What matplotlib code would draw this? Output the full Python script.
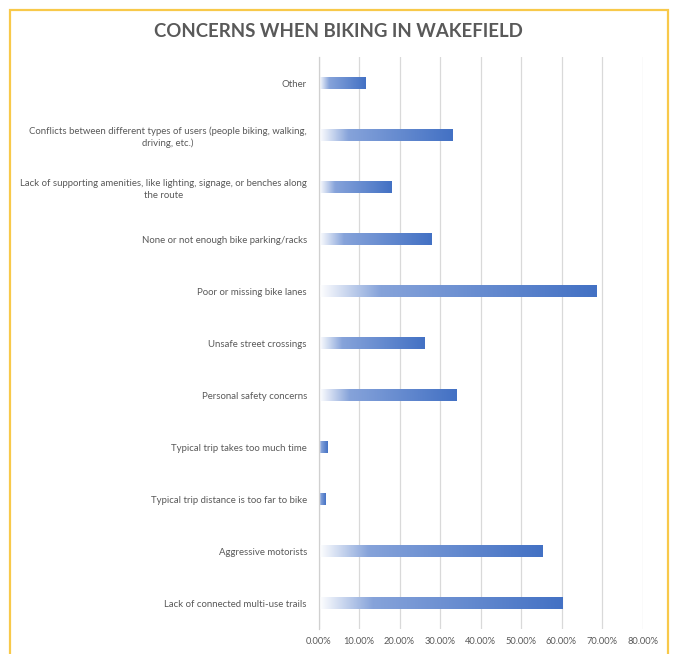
import numpy as np
import matplotlib
matplotlib.use("Agg")
import matplotlib.pyplot as plt
import matplotlib.transforms as mtransforms
from matplotlib.colors import LinearSegmentedColormap
from matplotlib.patches import Rectangle

# ---- data (top to bottom as shown) ----
categories = [
    "Other",
    "Conflicts between different types of users (people biking, walking,\ndriving, etc.)",
    "Lack of supporting amenities, like lighting, signage, or benches along\nthe route",
    "None or not enough bike parking/racks",
    "Poor or missing bike lanes",
    "Unsafe street crossings",
    "Personal safety concerns",
    "Typical trip takes too much time",
    "Typical trip distance is too far to bike",
    "Aggressive motorists",
    "Lack of connected multi-use trails",
]
values = [0.116, 0.330, 0.179, 0.279, 0.686, 0.260, 0.340, 0.022, 0.015, 0.551, 0.601]
x_ticks = [0.0, 0.1, 0.2, 0.3, 0.4, 0.5, 0.6, 0.7, 0.8]
x_tick_labels = ["0.00%", "10.00%", "20.00%", "30.00%", "40.00%", "50.00%",
                 "60.00%", "70.00%", "80.00%"]
title = "CONCERNS WHEN BIKING IN WAKEFIELD"

plt.rcParams['font.family'] = ['Lato', 'DejaVu Sans']

W, H = 673, 654
fig = plt.figure(figsize=(W / 100, H / 100), dpi=100)
fig.patch.set_facecolor('white')

left, right, top, bottom = 318.5, 642.5, 57.3, 629.0
ax = fig.add_axes([left / W, 1 - bottom / H, (right - left) / W, (bottom - top) / H])

ypos = np.arange(len(categories))
bars = ax.barh(ypos, values, height=0.23, color='none', edgecolor='none', zorder=2)

cmap = LinearSegmentedColormap.from_list(
    'grad', [(0.0, '#FFFFFF'), (0.22, '#86A3DA'), (1.0, '#4371C4')])
grad = np.linspace(0, 1, 256).reshape(1, -1)
for b in bars:
    x0, y0, w, h = b.get_x(), b.get_y(), b.get_width(), b.get_height()
    ax.imshow(grad, cmap=cmap, extent=(x0, x0 + w, y0 + h, y0), aspect='auto',
              interpolation='bicubic', zorder=2)

ax.set_xlim(0, 0.8)
ax.set_ylim(len(categories) - 0.5, -0.5)
ax.set_aspect('auto')

ax.set_xticks(x_ticks)
ax.set_xticklabels(x_tick_labels)
ax.set_yticks(ypos)
ax.set_yticklabels(categories, ha='center', multialignment='center', linespacing=1.35)

ax.tick_params(axis='x', length=0, pad=6, labelsize=6.7, labelcolor='#595959')
ax.tick_params(axis='y', length=0, pad=0, labelsize=6.9, labelcolor='#595959')

# center each label block so its right edge sits near x=307px
fig.canvas.draw()
renderer = fig.canvas.get_renderer()
for lab in ax.get_yticklabels():
    bb = lab.get_window_extent(renderer)
    lab.set_transform(ax.get_yaxis_transform() + mtransforms.ScaledTranslation(
        -(left - 307 + bb.width / 2) / 100, 0, fig.dpi_scale_trans))

ax.grid(axis='x', color='#D9D9D9', linewidth=0.9, zorder=0)
ax.set_axisbelow(True)
for s in ['top', 'right', 'bottom']:
    ax.spines[s].set_visible(False)
ax.spines['left'].set_color('#D0D0D0')
ax.spines['left'].set_linewidth(0.9)

fig.text(338 / W, 1 - 31.5 / H, title, ha='center', va='center',
         fontsize=13.4, fontweight='bold', color='#595959')

# yellow frame
fig.add_artist(Rectangle((10 / W, -0.02), (668 - 10) / W, 1 - 10 / H + 0.02,
                         transform=fig.transFigure, fill=False,
                         edgecolor='#F8C94A', linewidth=1.6))

fig.savefig('out.png', dpi=100, facecolor='white')
